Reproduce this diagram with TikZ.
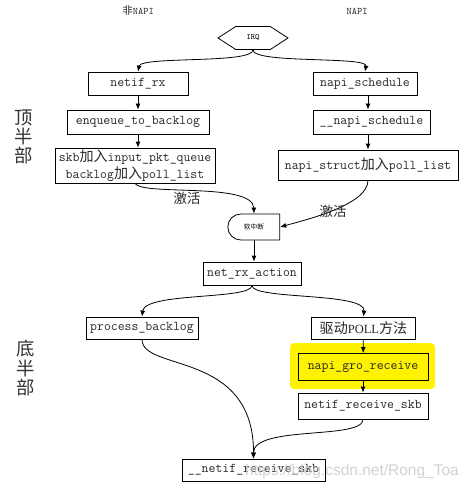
\documentclass[tikz,border=0pt]{standalone}
\usepackage{fontspec}
\setmainfont{Liberation Serif}
\newfontfamily\cjk[Scale=1.05]{Noto Sans CJK SC}
\newfontfamily\wmfont{Liberation Sans}
\usetikzlibrary{arrows.meta, shapes.symbols, shapes.misc}
\newcommand{\zh}[1]{{\cjk #1}}

\begin{document}
\begin{tikzpicture}[
    x=1pt, y=-1pt,
    func box/.style={draw, line width=0.8pt, inner sep=0pt, align=center, text=black!85,
        font=\fontsize{13.4}{16.5}\selectfont\ttfamily},
    irq node/.style={draw, line width=0.8pt, shape=signal, signal to=west and east,
        signal pointer angle=66, inner sep=0pt, minimum width=70pt, minimum height=23pt,
        font=\fontsize{8}{9}\selectfont\ttfamily},
    soft node/.style={draw, line width=0.8pt, rounded rectangle, rounded rectangle right arc=none,
        inner sep=0pt, minimum width=52pt, minimum height=26pt, font=\fontsize{6.4}{7}\selectfont},
    side label/.style={align=center, text=black!80, font=\fontsize{17.5}{19.2}\selectfont\cjk},
    act label/.style={text=black!85, font=\fontsize{12.8}{14}\selectfont},
    title label/.style={text=black!85, font=\fontsize{10}{11}\selectfont\ttfamily},
    flow edge/.style={line width=0.8pt, -{Latex[length=6pt, width=5pt]}}
]
\useasboundingbox (0,0) rectangle (472,492);

% 1. Titulos y etiquetas laterales
\node[title label] (tleft) at (138,11) {\zh{非}NAPI};
\node[title label] (tright) at (357,11) {NAPI};
\node[side label] (top half) at (24,137) {顶\\半\\部};
\node[side label] (bottom half) at (26,368) {底\\半\\部};

% 2. Parte superior (IRQ)
\node[irq node] (irq) at (253,38) {IRQ};
\node[func box, minimum width=100pt, minimum height=23pt] (netifrx) at (138,83.5) {netif\_rx};
\node[func box, minimum width=142pt, minimum height=24pt] (enqueue) at (138,122) {enqueue\_to\_backlog};
\node[func box, minimum width=160pt, minimum height=35pt] (skb) at (135,165.5)
    {skb\zh{加入}input\_pkt\_queue\\backlog\zh{加入}poll\_list};
\node[func box, minimum width=104pt, minimum height=23pt] (nsched) at (365,83.5) {napi\_schedule};
\node[func box, minimum width=117pt, minimum height=24pt] (nsched2) at (371.5,122) {\_\_napi\_schedule};
\node[func box, minimum width=180pt, minimum height=30pt] (nstruct) at (368,165) {napi\_struct\zh{加入}poll\_list};

% 3. Softirq y parte inferior
\node[soft node] (soft) at (254,227) {\zh{软中断}};
\node[func box, minimum width=98pt, minimum height=23pt] (netrx) at (252,273.5) {net\_rx\_action};
\node[func box, minimum width=112pt, minimum height=22pt] (backlog) at (142,328) {process\_backlog};
\node[func box, minimum width=104pt, minimum height=22pt] (poll) at (363.5,328) {\zh{驱动}{\rmfamily\fontsize{12.5}{14}\selectfont POLL}\zh{方法}};
\fill[yellow, rounded corners=4pt] (290,343) rectangle (435,389);
\node[func box, fill=yellow, minimum width=130pt, minimum height=27pt] (gro) at (363,367) {napi\_gro\_receive};
\node[func box, minimum width=130pt, minimum height=26pt] (nrskb) at (363,406) {netif\_receive\_skb};
\node[func box, minimum width=143pt, minimum height=22pt] (nrskb2) at (253.5,470) {\_\_netif\_receive\_skb};

% 4. Conexiones
\draw[flow edge] (irq.south) .. controls (253,64) and (141,56) .. (netifrx.north);
\draw[flow edge] (irq.south) .. controls (253,64) and (368,56) .. (nsched.north);
\draw[flow edge] (netifrx) -- (enqueue);
\draw[flow edge] (enqueue.south) -- (enqueue.south |- skb.north);
\draw[flow edge] (nsched.south -| nstruct.north) -- (nsched2.north -| nstruct.north);
\draw[flow edge] (nsched2.south -| nstruct.north) -- (nstruct.north);
\draw[flow edge] (skb.south) .. controls (142,196) and (253,182) .. (soft.north);
\node[act label] (act left) at (187,198) {\zh{激活}};
\draw[flow edge] (nstruct.south) .. controls (368,205) and (305,220) .. (soft.east);
\node[act label] (act right) at (333,211) {\zh{激活}};
\draw[flow edge] (soft.south) -- (soft.south |- netrx.north);
\draw[flow edge] (netrx.south) .. controls (252,300) and (145,292) .. (backlog.north);
\draw[flow edge] (netrx.south) .. controls (252,300) and (366,292) .. (poll.north);
\draw[flow edge] (poll) -- (gro);
\draw[flow edge] (gro) -- (nrskb);
\draw[flow edge] (backlog.south) .. controls (142,372) and (254,350) .. (nrskb2.north);
\draw[flow edge] (nrskb.south) .. controls (363,440) and (253,425) .. (nrskb2.north);

% 5. Marca de agua
\node[text=gray!45, opacity=0.8, font=\fontsize{15.5}{17}\selectfont\wmfont] (wm) at (352,471) {https://blog.csdn.net/Rong\_Toa};

\end{tikzpicture}
\end{document}
